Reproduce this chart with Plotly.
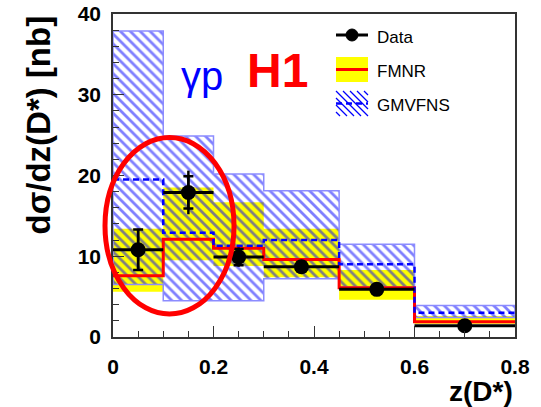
import numpy as np
import plotly.graph_objects as go

# ---------------- data ----------------
edges = [0.0, 0.1, 0.2, 0.3, 0.45, 0.6, 0.8]
data_y = [10.8, 17.9, 9.9, 8.7, 5.9, 1.4]
data_stat = [2.5, 2.0, 1.0, 0.6, 0.4, 0.2]
data_tot = [2.6, 2.7, 1.2, 0.8, 0.5, 0.3]
fmnr_c = [7.6, 12.1, 11.0, 9.6, 6.1, 1.9]
fmnr_lo = [5.6, 9.5, 8.8, 7.4, 4.6, 1.65]
fmnr_hi = [13.4, 18.5, 16.7, 13.4, 8.3, 2.6]
gmv_c = [19.5, 12.9, 11.3, 12.0, 9.0, 3.0]
gmv_lo = [6.5, 4.5, 4.5, 7.2, 6.2, 2.4]
gmv_hi = [37.9, 24.9, 20.2, 18.1, 11.5, 3.9]
xticks = [0, 0.2, 0.4, 0.6, 0.8]
xticklabels = ["0", "0.2", "0.4", "0.6", "0.8"]
yticks = [0, 10, 20, 30, 40]
yticklabels = ["0", "10", "20", "30", "40"]

FONT = "Liberation Sans, Arial, Helvetica, sans-serif"
W, H = 541, 407
ML, MR, MT, MB = 113, 26, 14, 70
PW, PH = W - ML - MR, H - MT - MB


def px(xp):
    return (xp - ML) / PW


def py(yp):
    return (H - MB - yp) / PH


e = np.array(edges)
centers = 0.5 * (e[:-1] + e[1:])
halfw = 0.5 * (e[1:] - e[:-1])


def band(lo, hi):
    xs, ys = [], []
    for i in range(len(hi)):
        xs += [e[i], e[i + 1]]
        ys += [hi[i], hi[i]]
    for i in reversed(range(len(lo))):
        xs += [e[i + 1], e[i]]
        ys += [lo[i], lo[i]]
    xs.append(xs[0])
    ys.append(ys[0])
    return xs, ys


def step(vals):
    return list(e), list(vals) + [vals[-1]]


fig = go.Figure()

# FMNR band
bx, by = band(fmnr_lo, fmnr_hi)
fig.add_trace(go.Scatter(x=bx, y=by, mode="lines", fill="toself",
                         fillcolor="#ffff00", line=dict(width=0, color="#ffff00"),
                         hoverinfo="skip", showlegend=False))
# GMVFNS hatched band
gx, gy = band(gmv_lo, gmv_hi)
fig.add_trace(go.Scatter(x=gx, y=gy, mode="lines", fill="toself",
                         fillcolor="rgba(0,0,0,0)",
                         fillpattern=dict(shape="\\", fgcolor="#0000ff",
                                          bgcolor="rgba(0,0,0,0)", size=7, solidity=0.4),
                         line=dict(width=1.5, color="#8c8cff"),
                         hoverinfo="skip", showlegend=False))
# FMNR central
sx, sy = step(fmnr_c)
fig.add_trace(go.Scatter(x=sx, y=sy, mode="lines", line_shape="hv",
                         line=dict(color="#ff0000", width=3), showlegend=False))
# GMVFNS central
sx, sy = step(gmv_c)
fig.add_trace(go.Scatter(x=sx, y=sy, mode="lines", line_shape="hv",
                         line=dict(color="#0000ff", width=2.5, dash="6px,4px"), showlegend=False))
# Data: total errors
fig.add_trace(go.Scatter(x=centers, y=data_y, mode="markers",
                         marker=dict(size=1, color="black"),
                         error_x=dict(type="data", array=halfw, color="black", thickness=3, width=0),
                         error_y=dict(type="data", array=data_tot, color="black", thickness=2.5, width=0),
                         showlegend=False))
# Data: stat errors with caps
fig.add_trace(go.Scatter(x=centers, y=data_y, mode="markers",
                         marker=dict(size=15, color="black"),
                         error_y=dict(type="data", array=data_stat, color="black", thickness=2.5, width=5),
                         showlegend=False))

shapes = []
# red ellipse
shapes.append(dict(type="circle", xref="paper", yref="paper",
                   x0=px(105), x1=px(234), y0=py(314), y1=py(137.5),
                   line=dict(color="#ff0000", width=5), layer="above"))
# legend: Data
shapes.append(dict(type="line", xref="paper", yref="paper", x0=px(336), x1=px(368), y0=py(35), y1=py(35),
                   line=dict(color="black", width=3)))
shapes.append(dict(type="circle", xref="paper", yref="paper", x0=px(346), x1=px(358), y0=py(41), y1=py(29),
                   fillcolor="black", line=dict(color="black", width=1)))
# legend: FMNR
shapes.append(dict(type="rect", xref="paper", yref="paper", x0=px(336), x1=px(368), y0=py(82), y1=py(57),
                   fillcolor="#ffff00", line=dict(width=0)))
shapes.append(dict(type="line", xref="paper", yref="paper", x0=px(336), x1=px(368), y0=py(69.5), y1=py(69.5),
                   line=dict(color="#ff0000", width=3)))
# legend: GMVFNS hatched box
lx0, lx1, ly0, ly1 = 336, 368, 91, 116
sp = 7
for k in range(-6, 12):
    c0 = lx0 + k * sp
    t0 = max(0, lx0 - c0)
    t1 = min(ly1 - ly0, lx1 - c0)
    if t1 > t0:
        shapes.append(dict(type="line", xref="paper", yref="paper",
                           x0=px(c0 + t0), y0=py(ly0 + t0), x1=px(c0 + t1), y1=py(ly0 + t1),
                           line=dict(color="#0000ff", width=1.2)))
shapes.append(dict(type="line", xref="paper", yref="paper", x0=px(336), x1=px(368), y0=py(103.5), y1=py(103.5),
                   line=dict(color="#0000ff", width=2.5, dash="6px,4px")))

annotations = [
    dict(text="Data", x=px(375), y=py(37), xref="paper", yref="paper", xanchor="left", yanchor="middle",
         showarrow=False, font=dict(family=FONT, size=17, color="black")),
    dict(text="FMNR", x=px(375), y=py(71), xref="paper", yref="paper", xanchor="left", yanchor="middle",
         showarrow=False, font=dict(family=FONT, size=17, color="black")),
    dict(text="GMVFNS", x=px(375), y=py(105), xref="paper", yref="paper", xanchor="left", yanchor="middle",
         showarrow=False, font=dict(family=FONT, size=17, color="black")),
    dict(text="γp", x=px(201.5), y=py(76), xref="paper", yref="paper", xanchor="center", yanchor="middle",
         showarrow=False, font=dict(family=FONT, size=40, color="#0000ff")),
    dict(text="<b>H1</b>", x=px(277.5), y=py(70), xref="paper", yref="paper", xanchor="center", yanchor="middle",
         showarrow=False, font=dict(family=FONT, size=48, color="#ff0000")),
    dict(text="<b>dσ/dz(D*) [nb]</b>", x=px(38), y=py(14), xref="paper", yref="paper", xanchor="center",
         yanchor="top", textangle=-90, showarrow=False, font=dict(family=FONT, size=33, color="black")),
    dict(text="<b>z(D*)</b>", x=px(515), y=py(391), xref="paper", yref="paper", xanchor="right",
         yanchor="middle", showarrow=False, font=dict(family=FONT, size=28, color="black")),
]

fig.update_layout(
    width=W, height=H, margin=dict(l=ML, r=MR, t=MT, b=MB, autoexpand=False),
    paper_bgcolor="white", plot_bgcolor="white",
    shapes=shapes, annotations=annotations, showlegend=False,
    xaxis=dict(range=[0, 0.8], tickvals=xticks, ticktext=xticklabels, ticks="inside", ticklen=11,
               tickwidth=1, tickcolor="#333", showgrid=False, zeroline=False, showline=True,
               linecolor="#333", linewidth=1.5, mirror=True, ticklabelstandoff=10, automargin=False,
               tickfont=dict(family=FONT, size=21, color="black", weight="bold"),
               minor=dict(dtick=0.05, ticks="inside", ticklen=6, tickwidth=1, tickcolor="#333", showgrid=False)),
    yaxis=dict(range=[0, 40], tickvals=yticks, ticktext=yticklabels, ticks="inside", ticklen=11,
               tickwidth=1, tickcolor="#333", showgrid=False, zeroline=False, showline=True,
               linecolor="#333", linewidth=1.5, mirror=True, ticklabelstandoff=6, automargin=False,
               tickfont=dict(family=FONT, size=21, color="black", weight="bold"),
               minor=dict(dtick=2, ticks="inside", ticklen=6, tickwidth=1, tickcolor="#333", showgrid=False)),
)

fig.write_html("out.html", config={"displayModeBar": False},
               post_script="document.body.style.margin='0';")
